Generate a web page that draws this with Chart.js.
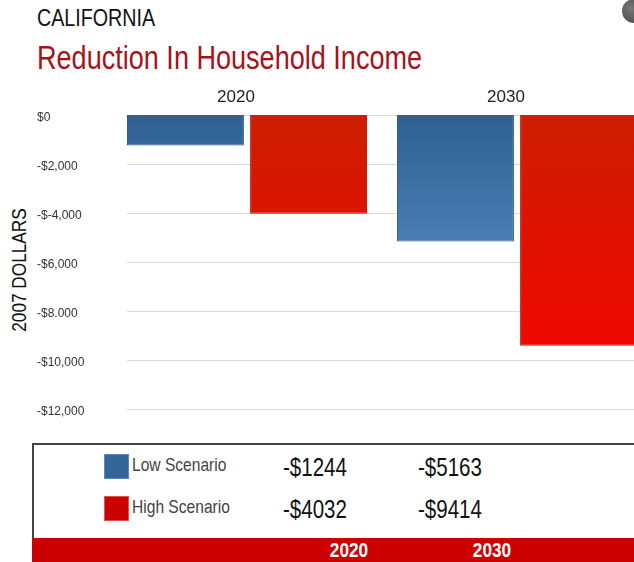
<!DOCTYPE html>
<html>
<head>
<meta charset="utf-8">
<script src="https://cdn.jsdelivr.net/npm/chart.js@4.4.0/dist/chart.umd.min.js"></script>
<style>
  html, body { margin: 0; padding: 0; background: #fff; }
  body { position: relative; width: 634px; height: 562px; overflow: hidden;
         font-family: "Liberation Sans", Arial, sans-serif; }
  .abs { position: absolute; white-space: nowrap; }
  /* Liberation has no narrow cut here, so squeeze it like Arial Narrow */
  .narrow { transform-origin: left center; transform: scaleX(0.82); }
  #state { left: 37px; top: 4px; font-size: 24px; color: #111; }
  #title { left: 37px; top: 39px; font-size: 33px; color: #a3141c; }
  #dot { left: 622px; top: -1px; width: 24px; height: 24px; border-radius: 50%;
         background: radial-gradient(circle at 40% 40%, #777, #444); }
  #ytitle { left: 19px; top: 270px; font-size: 21px; color: #111;
            transform: translate(-50%, -50%) rotate(-90deg) scaleX(0.82); }
  #chartBox { left: 0; top: 0; width: 660px; height: 430px; }
  #panel { left: 32px; top: 443px; width: 640px; height: 130px;
           border-top: 2px solid #444; border-left: 2px solid #444; box-sizing: border-box; }
  .swatch { width: 25px; height: 25px; box-sizing: border-box; }
  .sname { font-size: 19px; color: #444; transform-origin: left center; transform: translateY(-50%) scaleX(0.82); }
  .sval { font-size: 25px; color: #111; transform-origin: left center; transform: translateY(-50%) scaleX(0.82); }
  #band { left: 32px; top: 538px; width: 640px; height: 24px; background: #cc0000; }
  .bandlbl { font-size: 21px; font-weight: bold; color: #fff; top: 538px; transform: translateX(-50%) scaleX(0.82); }
</style>
</head>
<body>
<div id="state" class="abs narrow">CALIFORNIA</div>
<div id="title" class="abs narrow">Reduction In Household Income</div>
<div id="dot" class="abs"></div>
<div id="ytitle" class="abs">2007 DOLLARS</div>
<div id="chartBox" class="abs"><canvas id="barChart"></canvas></div>
<div id="panel" class="abs"></div>
<div id="band" class="abs"></div>
<script>
var categories = ["2020", "2030"];
var lowScenario = [-1244, -5163];
var highScenario = [-4032, -9414];
var seriesNames = ["Low Scenario", "High Scenario"];
var yTickLabels = ["$0", "-$2,000", "-$-4,000", "-$6,000", "-$8.000", "-$10,000", "-$12,000"];

Chart.defaults.font.family = '"Liberation Sans", Arial, sans-serif';

// vertical gradient over the plot area, so each bar shades by its depth
function shade(stops) {
  return function (ctx) {
    var area = ctx.chart.chartArea;
    if (!area) return stops[0][1];
    var g = ctx.chart.ctx.createLinearGradient(0, area.top, 0, area.bottom);
    stops.forEach(function (s) { g.addColorStop(s[0], s[1]); });
    return g;
  };
}

// light horizontal rules, starting a little right of the plot edge
var gridRules = {
  id: "gridRules",
  beforeDatasetsDraw: function (chart) {
    var y = chart.scales.y, c = chart.ctx;
    c.save();
    c.strokeStyle = "#d9d9d9";
    c.lineWidth = 1;
    y.ticks.forEach(function (t) {
      var py = Math.round(y.getPixelForValue(t.value)) + 0.5;
      c.beginPath();
      c.moveTo(chart.chartArea.left + 15, py);
      c.lineTo(chart.width, py);
      c.stroke();
    });
    c.restore();
  }
};

var ctxB = document.getElementById("barChart").getContext("2d");
var myBarChart = new Chart(ctxB, {
  type: "bar",
  data: {
    labels: categories,
    datasets: [
      {
        label: seriesNames[0],
        data: lowScenario,
        backgroundColor: shade([[0, "#2f6094"], [0.43, "#4a7db1"], [1, "#5b8ec2"]]),
        borderColor: "#2a5585",
        borderWidth: 1,
        categoryPercentage: 0.912,
        barPercentage: 0.95,
      },
      {
        label: seriesNames[1],
        data: highScenario,
        backgroundColor: shade([[0, "#cc1e00"], [0.79, "#f00800"], [1, "#f40500"]]),
        borderColor: "#b81a10",
        borderWidth: 1,
        categoryPercentage: 0.912,
        barPercentage: 0.95,
      },
    ],
  },
  options: {
    responsive: true,
    maintainAspectRatio: false,
    animation: false,
    layout: { padding: { left: 37, right: 8, top: 70, bottom: 21 } },
    plugins: { legend: { display: false }, tooltip: { enabled: false } },
    scales: {
      x: {
        position: "top",
        grid: { display: false, drawTicks: false },
        border: { display: false },
        ticks: { color: "#222", font: { size: 17 }, padding: 7, labelOffset: -11 },
        afterFit: function (s) { s.height = 45; },
      },
      y: {
        min: -12000,
        max: 0,
        grid: { display: false, drawTicks: false },
        border: { display: false },
        ticks: {
          stepSize: 2000,
          crossAlign: "far",
          labelOffset: 3,
          color: "#333",
          font: { size: 12 },
          callback: function (v) { return yTickLabels[Math.round(-v / 2000)]; },
        },
        afterFit: function (s) { s.width = 75; },
      },
    },
  },
  plugins: [gridRules],
});

// data table under the chart
var rowTops = [454, 496];
var valueLefts = [283, 418];
var swatchColors = ["#336699", "#cc0000"];
var swatchEdges = ["#5b86b5", "#e05050"];
[lowScenario, highScenario].forEach(function (vals, i) {
  var sw = document.createElement("div");
  sw.className = "abs swatch";
  sw.style.left = "104px";
  sw.style.top = rowTops[i] + "px";
  sw.style.background = swatchColors[i];
  sw.style.border = "1px solid " + swatchEdges[i];
  document.body.appendChild(sw);

  var nm = document.createElement("div");
  nm.className = "abs sname";
  nm.style.left = "132px";
  nm.style.top = (rowTops[i] + 11) + "px";
  nm.textContent = seriesNames[i];
  document.body.appendChild(nm);

  vals.forEach(function (v, j) {
    var el = document.createElement("div");
    el.className = "abs sval";
    el.style.left = valueLefts[j] + "px";
    el.style.top = (rowTops[i] + 13) + "px";
    el.textContent = "-$" + Math.abs(v);
    document.body.appendChild(el);
  });
});

var bandCenters = [349, 492];
categories.forEach(function (c, j) {
  var el = document.createElement("div");
  el.className = "abs bandlbl";
  el.style.left = bandCenters[j] + "px";
  el.textContent = c;
  document.body.appendChild(el);
});
</script>
</body>
</html>
